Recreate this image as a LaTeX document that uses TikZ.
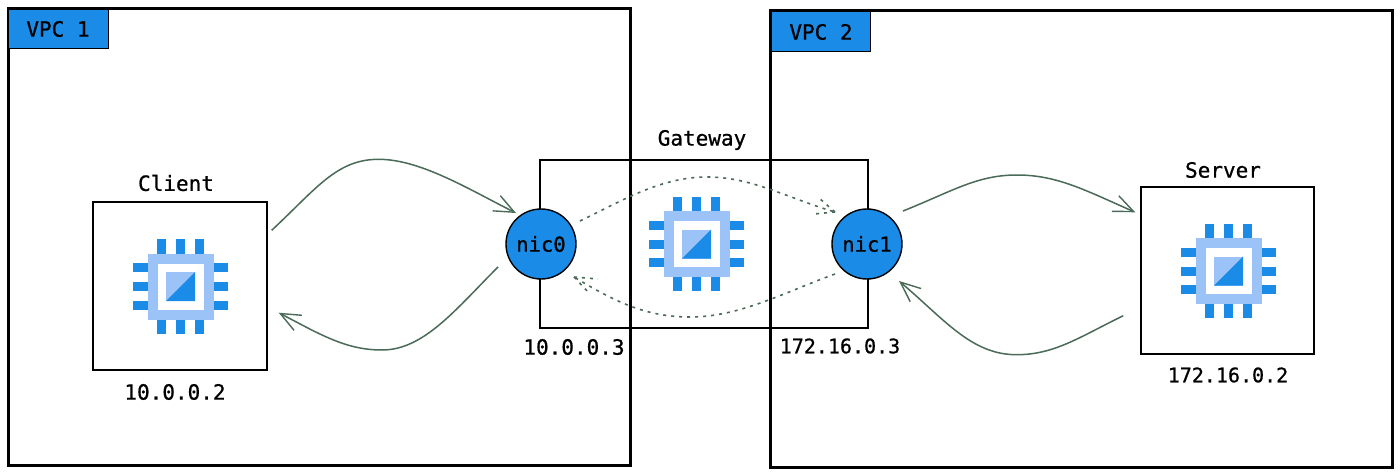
\documentclass[tikz,border=0pt]{standalone}
\usepackage{fontspec}
\setmonofont[FakeBold=0.8]{DejaVu Sans Mono}
\usetikzlibrary{arrows.meta}
\definecolor{chipdark}{HTML}{1A8CE8}
\definecolor{chiplight}{HTML}{9CC3F7}
\definecolor{flow}{HTML}{4A6B58}
\newcommand{\chipicon}[1]{%
  \begin{scope}[shift={#1}]
    \fill[chipdark] (-4.5,-47.5) rectangle (4.5,-33);
    \fill[chipdark] (-23.5,-47.5) rectangle (-14.5,-33);
    \fill[chipdark] (14.5,-47.5) rectangle (23.5,-33);
    \fill[chipdark] (-4.5,33) rectangle (4.5,47);
    \fill[chipdark] (-23.5,33) rectangle (-14.5,47);
    \fill[chipdark] (14.5,33) rectangle (23.5,47);
    \fill[chipdark] (-48,-23.5) rectangle (-33,-14.5);
    \fill[chipdark] (-48,-4.5) rectangle (-33,4.5);
    \fill[chipdark] (-48,14) rectangle (-33,23);
    \fill[chipdark] (33,-23.5) rectangle (47,-14.5);
    \fill[chipdark] (33,-4.5) rectangle (47,4.5);
    \fill[chipdark] (33,14) rectangle (47,23);
    \fill[chiplight] (-33,-33) rectangle (33,33);
    \fill[white] (-23,-23) rectangle (23,23);
    \fill[chiplight] (-14.5,-14.5) rectangle (14.5,14.5);
    \fill[chipdark] (-14.5,14.5) -- (14.5,-14.5) -- (14.5,14.5) -- cycle;
  \end{scope}}
\tikzset{
  x=1pt,y=-1pt,
  vpcbox/.style={draw=black,line width=3pt,fill=none,rectangle,inner sep=0pt},
  hostbox/.style={draw=black,line width=1.4pt,fill=none,rectangle,inner sep=0pt},
  tagbox/.style={draw=black,line width=1pt,fill=chipdark,rectangle,inner sep=0pt,font=\ttfamily\fontsize{21}{21}\selectfont,text=black},
  nic/.style={draw=black,line width=1.4pt,fill=chipdark,circle,inner sep=0pt,minimum size=70pt,font=\ttfamily\fontsize{20.5}{20.5}\selectfont,text=black},
  lbl/.style={font=\ttfamily\fontsize{21}{21}\selectfont,text=black,inner sep=0pt},
  lblnarrow/.style={lbl,font=\ttfamily\fontsize{20}{20}\selectfont},
  flowline/.style={draw=flow,line width=1.5pt,-{Straight Barb[length=20pt,width=17pt,line width=1.4pt]}},
  flowdash/.style={draw=flow,line width=1.6pt,dash pattern=on 3pt off 5pt},
}
\begin{document}
\begin{tikzpicture}
\useasboundingbox[fill=white] (0,0) rectangle (1400,476);
% chips
\chipicon{(180.5,286.5)}
\chipicon{(696.5,244)}
\chipicon{(1228.5,271)}
% hosts
\node[hostbox,minimum width=174pt,minimum height=168pt] (client) at (180,286) {};
\node[hostbox,minimum width=328pt,minimum height=168pt] (gateway) at (704,244) {};
\node[hostbox,minimum width=173pt,minimum height=167pt] (server) at (1227.5,270.5) {};
% VPCs
\node[vpcbox,minimum width=622pt,minimum height=456pt] (vpca) at (319,237) {};
\node[vpcbox,minimum width=622pt,minimum height=456pt] (vpcb) at (1081,239) {};
\node[tagbox,minimum width=100pt,minimum height=39pt] (taga) at (58,29) {VPC 1};
\node[tagbox,minimum width=99pt,minimum height=40pt] (tagb) at (821,32) {VPC 2};
% nics
\node[nic] (nica) at (541,244) {nic0};
\node[nic] (nicb) at (867,244) {nic1};
% labels
\node[lbl] (lclient) at (176,183) {Client};
\node[lbl] (ipclient) at (175,392) {10.0.0.2};
\node[lbl] (lgateway) at (702,140) {Gateway};
\node[lbl] (ipa) at (574,347) {10.0.0.3};
\node[lblnarrow] (ipb) at (840,346) {172.16.0.3};
\node[lbl] (lserver) at (1223,170) {Server};
\node[lblnarrow] (ipserver) at (1228,375) {172.16.0.2};
% flows
\draw[flowline] ([shift={(4,29)}]client.north east) .. controls +(45,-42) and +(-42,0) .. ++(107,-71) .. controls +(42,0) and +(-46,-23) .. ([shift={(-25,-31)}]nica.center);
\draw[flowline] ([shift={(-43,23)}]nica.center) .. controls +(-42,42) and +(42,0) .. ++(-116,83) .. controls +(-36,0) and +(42,22) .. ([shift={(11,-58)}]client.south east);
\draw[flowline] ([shift={(36,-33)}]nicb.center) .. controls +(50,-20) and +(-40,0) .. ++(114,-36) .. controls +(40,0) and +(-50,-22) .. ([shift={(-5,26)}]server.north west);
\draw[flowline] ([shift={(-17,-39)}]server.south west) .. controls +(-45,22) and +(38,0) .. ++(-107,39) .. controls +(-45,0) and +(45,38) .. ([shift={(32,37)}]nicb.center);
\draw[flowdash] ([shift={(39,-23)}]nica.center) .. controls +(45,-22) and +(-45,0) .. ++(127,-44) .. controls +(45,0) and +(-48,-14) .. ([shift={(-32,-32)}]nicb.center);
\draw[flowdash] ([shift={(-32,-32)}]nicb.center) -- +(-21,2);
\draw[flowdash] ([shift={(-32,-32)}]nicb.center) -- +(-16,-14);
\draw[flowdash] ([shift={(-32,30)}]nicb.center) .. controls +(-50,18) and +(50,0) .. ++(-145,43) .. controls +(-45,0) and +(40,24) .. ([shift={(33,33)}]nica.center);
\draw[flowdash] ([shift={(33,33)}]nica.center) -- +(24,2);
\draw[flowdash] ([shift={(33,33)}]nica.center) -- +(16,17);
\end{tikzpicture}
\end{document}
